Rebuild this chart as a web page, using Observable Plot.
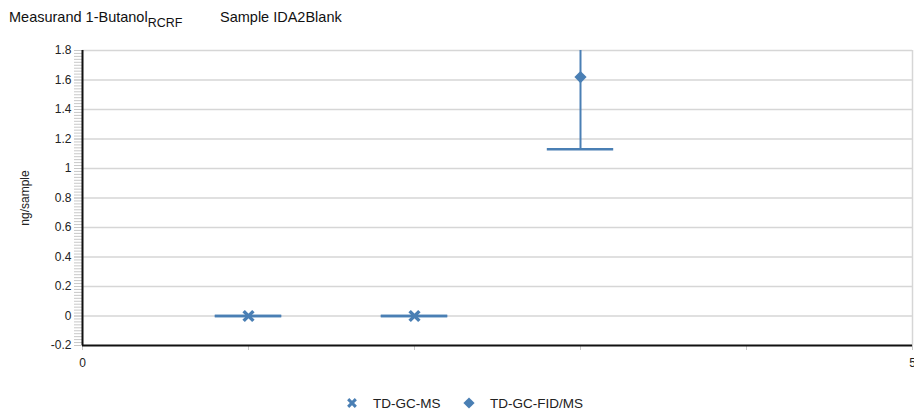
<!DOCTYPE html>
<html><head><meta charset="utf-8">
<script src="https://cdn.jsdelivr.net/npm/d3@7"></script>
<script src="https://cdn.jsdelivr.net/npm/@observablehq/plot@0.6"></script>
<style>
body{margin:0;background:#fff;font-family:"Liberation Sans",Arial,sans-serif;}
#wrap{width:914px;height:412px;position:relative;overflow:hidden;}
#title{height:30px;position:relative;font-size:14.5px;color:#111;}
#title .a{position:absolute;left:9px;top:9px;}
#title .b{position:absolute;left:220px;top:9px;}
#title sub{font-size:12.5px;vertical-align:-5px;line-height:0;}
#legend{position:relative;height:32px;}
</style></head>
<body><div id="wrap"><div id="title"><span class="a">Measurand 1-Butanol<sub>RCRF</sub></span><span class="b">Sample IDA2Blank</span></div><div id="chart"></div><div id="legend"></div></div>
<script>
const seriesNames = ["TD-GC-MS", "TD-GC-MS", "TD-GC-FID/MS"];
const xPositions = [1, 2, 3];
const values = [0, 0, 1.62];
const lows = [0, 0, 1.13];
const highs = [0, 0, 2.11];
const yMajorTicks = [-0.2, 0, 0.2, 0.4, 0.6, 0.8, 1, 1.2, 1.4, 1.6, 1.8];
const xTicks = [0, 1, 2, 3, 4, 5];
const xLabelled = [0, 5];
const legendItems = ["TD-GC-MS", "TD-GC-FID/MS"];

const color = "#4a7fb4";
const data = seriesNames.map((s, i) => ({s, x: xPositions[i], v: values[i], lo: lows[i], hi: highs[i]}));
const minorTicks = d3.range(-200, 1801, 20).map(d => d / 1000);

const plot = Plot.plot({
  width: 914, height: 350,
  marginLeft: 82, marginRight: 2, marginTop: 20, marginBottom: 35,
  style: {fontFamily: "Liberation Sans, Arial, sans-serif", fontSize: "12px", color: "#222", overflow: "visible"},
  x: {domain: [0, 5]},
  y: {domain: [-0.2, 1.8]},
  marks: [
    Plot.ruleY(yMajorTicks.filter(d => d > -0.2), {stroke: "#d6d6d6", strokeWidth: 1.5}),
    Plot.ruleX([5], {stroke: "#d6d6d6", strokeWidth: 1.5}),
    Plot.axisY(minorTicks, {tickSize: 8, tickFormat: () => "", stroke: "#c8c8c8", label: null}),
    Plot.axisY(yMajorTicks, {tickSize: 8, tickPadding: 3, stroke: "#c8c8c8", tickFormat: d => String(+(+d).toFixed(1)), label: "ng/sample", labelAnchor: "center", labelOffset: 62, labelArrow: "none"}),
    Plot.axisX(xTicks, {tickSize: 5, tickPadding: 8, stroke: "#c8c8c8", tickFormat: d => xLabelled.includes(d) ? String(d) : "", label: null}),
    Plot.ruleX(data, {x: "x", y1: "lo", y2: "hi", stroke: color, strokeWidth: 2, clip: true}),
    Plot.ruleY(data, {y: "lo", x1: d => d.x - 0.2, x2: d => d.x + 0.2, stroke: color, strokeWidth: 2.5, clip: true}),
    Plot.ruleY(data, {y: "hi", x1: d => d.x - 0.2, x2: d => d.x + 0.2, stroke: color, strokeWidth: 2.5, clip: true}),
    Plot.ruleX([0], {stroke: "#111", strokeWidth: 2}),
    Plot.ruleY([-0.2], {stroke: "#111", strokeWidth: 2}),
    Plot.dot(data.filter(d => d.s === "TD-GC-MS"), {x: "x", y: "v", symbol: "times", r: 4.5, stroke: color, strokeWidth: 3.5}),
    Plot.dot(data.filter(d => d.s === "TD-GC-FID/MS"), {x: "x", y: "v", symbol: "diamond2", r: 5.5, fill: color, stroke: "none"})
  ]
});
document.getElementById("chart").appendChild(plot);

// legend
const lg = d3.select("#legend").append("svg").attr("width", 914).attr("height", 32);
const pos = [{mx: 352, tx: 373}, {mx: 469, tx: 490}];
legendItems.forEach((name, i) => {
  const g = lg.append("g");
  if (i === 0) {
    g.append("path").attr("d", d3.symbol(d3.symbolTimes, 40)()).attr("transform", `translate(${pos[i].mx},23)`).attr("stroke", color).attr("stroke-width", 3).attr("fill", "none");
  } else {
    g.append("path").attr("d", d3.symbol(d3.symbolDiamond2, 80)()).attr("transform", `translate(${pos[i].mx},23)`).attr("fill", color);
  }
  g.append("text").attr("x", pos[i].tx).attr("y", 28).attr("font-size", 13.5).attr("fill", "#222").attr("font-family", "Liberation Sans, Arial, sans-serif").text(name);
});
</script></body></html>
